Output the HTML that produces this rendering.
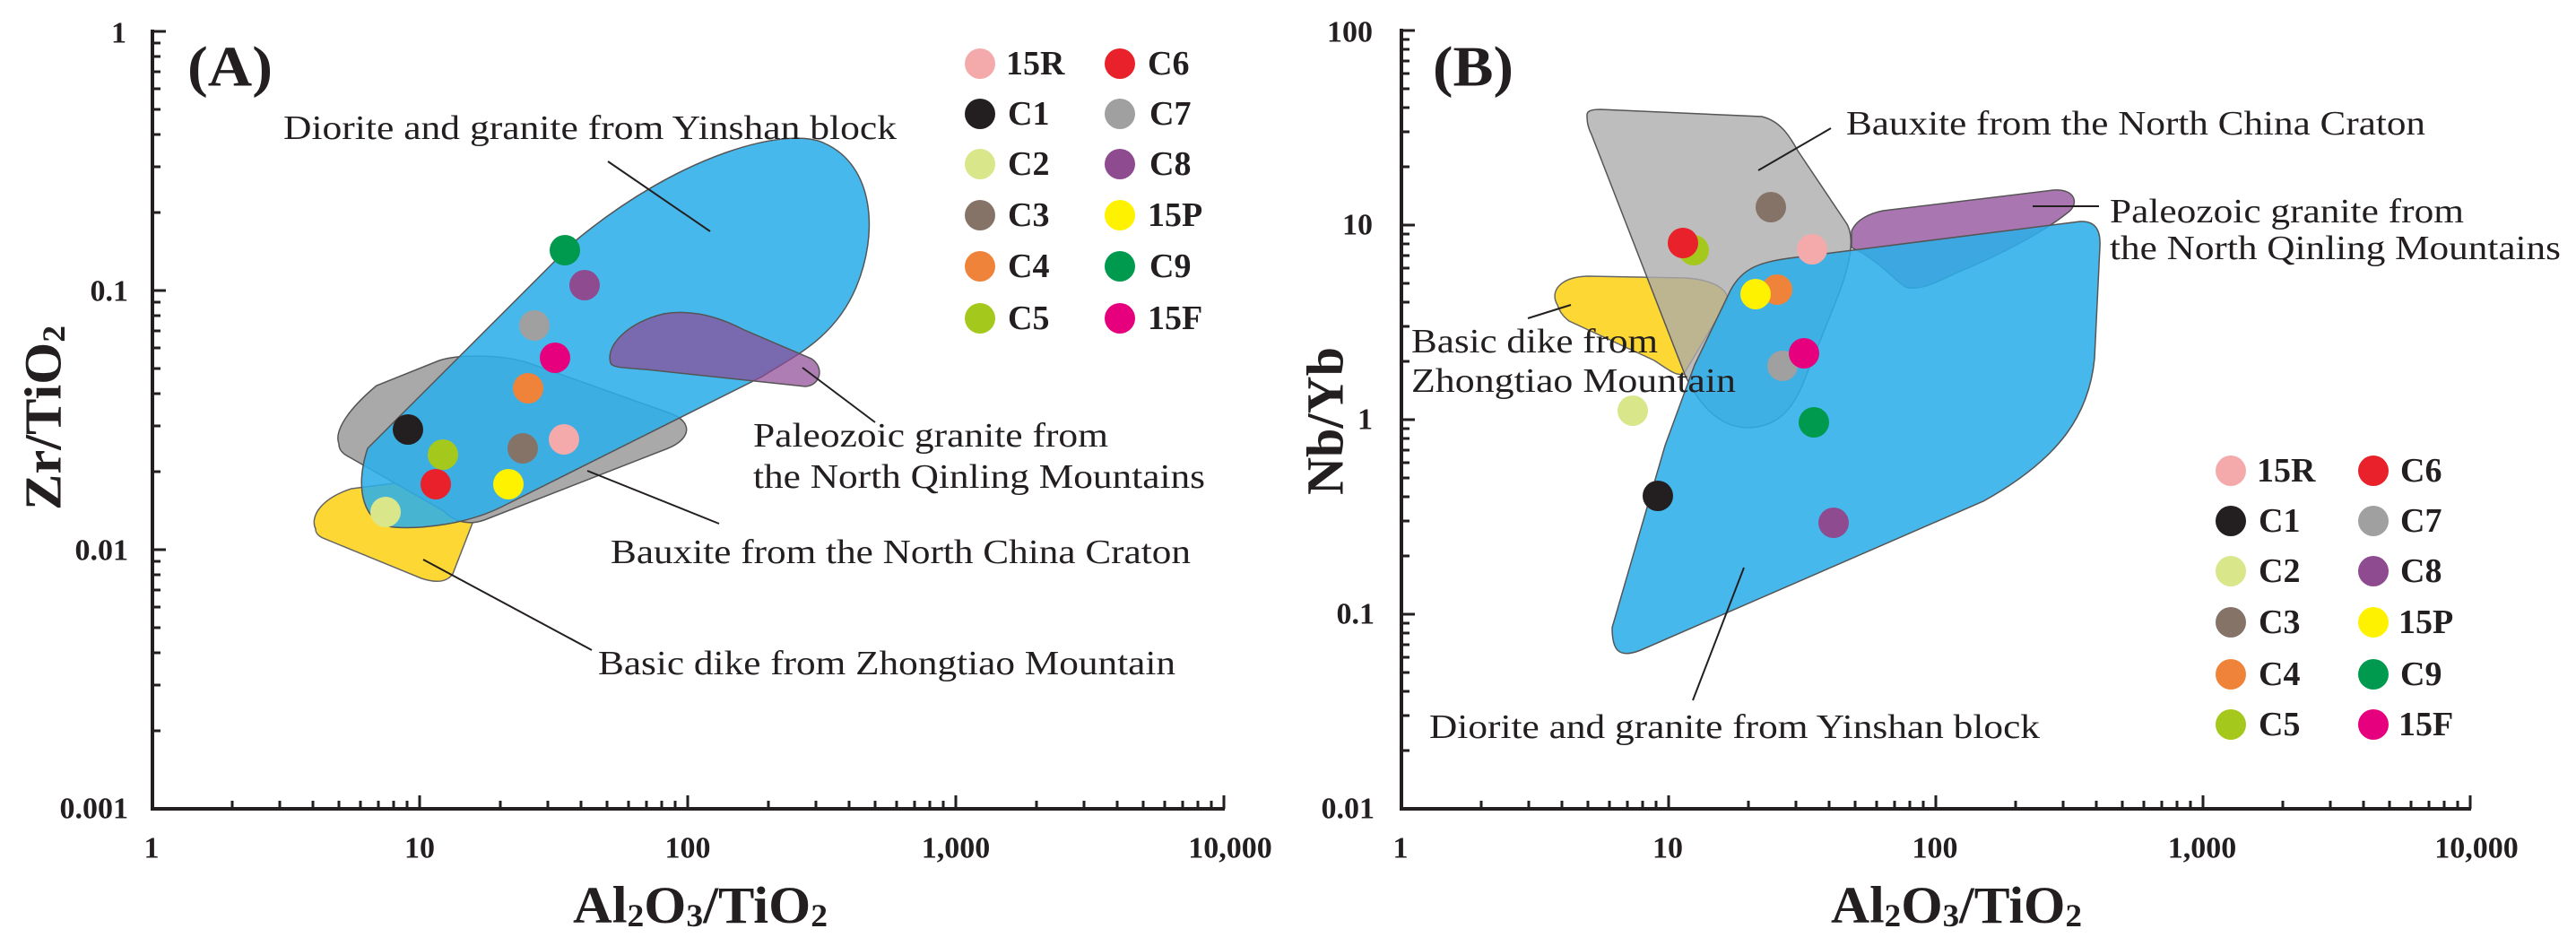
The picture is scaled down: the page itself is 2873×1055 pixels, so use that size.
<!DOCTYPE html>
<html><head><meta charset="utf-8"><style>
html,body{margin:0;padding:0;background:#fff;}
svg{display:block;}
text{font-family:"Liberation Serif",serif;fill:#231f20;}
.t{font-size:38px;}
.b{font-weight:bold;}
</style></head><body>
<svg width="2873" height="1055" viewBox="0 0 2873 1055" xmlns="http://www.w3.org/2000/svg">
<defs>
<g id="xdec" stroke="#231f20" stroke-width="3">
<path d="M90,0v-9M143,0v-9M180,0v-9M209,0v-9M233,0v-9M253,0v-9M270,0v-9M285,0v-9M299,0v-15"/>
</g>
<g id="ydecA" stroke="#231f20" stroke-width="3">
<path d="M0,-87h9M0,-138h9M0,-174h9M0,-202h9M0,-225h9M0,-244h9M0,-261h9M0,-276h9M0,-289h15"/>
</g>
<g id="ydecB" stroke="#231f20" stroke-width="3">
<path d="M0,-65h9M0,-104h9M0,-131h9M0,-152h9M0,-169h9M0,-183h9M0,-196h9M0,-207h9M0,-217h15"/>
</g>
</defs>

<!-- ================= PANEL A ================= -->
<!-- shapes -->
<path d="M352,590 C345,575 360,555 392,545 L510,530 C535,528 540,545 536,560 L505,640 C498,650 485,650 470,645 L360,600 C354,597 352,594 352,590 Z" fill="#fdd835" stroke="#666" stroke-width="1.5"/>
<path d="M378,495 C372,480 390,455 420,430 L490,402 C510,395 560,395 590,405 L745,460 C775,470 770,490 745,500 L540,580 C520,587 505,580 495,570 L390,510 C380,505 378,500 378,495 Z" fill="#a9a9a9" stroke="#555" stroke-width="1.5"/>
<path d="M440,588 C405,585 395,545 410,500 L640,270 C760,170 880,140 920,160 C975,185 980,260 955,320 C930,380 880,400 850,420 L560,565 C520,585 470,590 440,588 Z" fill="#2eaee8" fill-opacity="0.88" stroke="#555" stroke-width="1.5"/>
<path d="M681,405 C675,385 700,360 740,350 C770,345 800,352 830,368 L905,400 C920,410 915,430 898,431 L720,412 C695,410 683,410 681,405 Z" fill="#8e4b95" fill-opacity="0.72" stroke="#555" stroke-width="1.5"/>

<!-- leader lines A -->
<g stroke="#231f20" stroke-width="2" fill="none">
<path d="M678,180 L792,258"/>
<path d="M895,410 L976,471"/>
<path d="M655,525 L802,584"/>
<path d="M472,624 L660,725"/>
</g>

<!-- points A -->
<g>
<circle cx="630" cy="279" r="17" fill="#009a4e"/>
<circle cx="652" cy="318" r="17" fill="#8e4b8f"/>
<circle cx="596" cy="363" r="17" fill="#a0a0a0"/>
<circle cx="619" cy="399" r="17" fill="#e6007e"/>
<circle cx="589" cy="433" r="17" fill="#f0833a"/>
<circle cx="455" cy="479" r="17" fill="#231f20"/>
<circle cx="629" cy="490" r="17" fill="#f4aaaa"/>
<circle cx="583" cy="500" r="17" fill="#857368"/>
<circle cx="494" cy="507" r="17" fill="#a5c81c"/>
<circle cx="486" cy="540" r="17" fill="#e8212a"/>
<circle cx="567" cy="540" r="17" fill="#fff200"/>
<circle cx="430" cy="571" r="17" fill="#d9e68a"/>
</g>

<!-- axes A -->
<path d="M170,33 V902 H1366" fill="none" stroke="#231f20" stroke-width="4"/>
<use href="#xdec" x="169" y="902"/><use href="#xdec" x="468" y="902"/><use href="#xdec" x="767" y="902"/><use href="#xdec" x="1066" y="902"/>
<use href="#ydecA" x="170" y="902"/><use href="#ydecA" x="170" y="613"/><use href="#ydecA" x="170" y="324"/>
<g class="b" font-size="34" text-anchor="end" dominant-baseline="central">
<text x="141" y="37">1</text><text x="143" y="325">0.1</text><text x="143" y="614">0.01</text><text x="143" y="902">0.001</text>
</g>
<g class="b" font-size="34" text-anchor="middle" dominant-baseline="central">
<text x="169" y="946">1</text><text x="468" y="946">10</text><text x="767" y="946">100</text><text x="1066" y="946">1,000</text><text x="1372" y="946">10,000</text>
</g>
<text class="b" font-size="58" x="639" y="1009" dominant-baseline="central" textLength="284" lengthAdjust="spacingAndGlyphs">Al<tspan font-size="36" dy="12">2</tspan><tspan dy="-12">O</tspan><tspan font-size="36" dy="12">3</tspan><tspan dy="-12">/TiO</tspan><tspan font-size="36" dy="12">2</tspan></text>
<text class="b" font-size="58" transform="translate(48,569) rotate(-90)" dominant-baseline="central" textLength="206" lengthAdjust="spacingAndGlyphs">Zr/TiO<tspan font-size="36" dy="12">2</tspan></text>
<text class="b" font-size="64" x="209" y="74" dominant-baseline="central" textLength="95" lengthAdjust="spacingAndGlyphs">(A)</text>

<!-- labels A -->
<g class="t" dominant-baseline="central">
<text x="316" y="143" textLength="684" lengthAdjust="spacingAndGlyphs">Diorite and granite from Yinshan block</text>
<text x="840" y="486" textLength="396" lengthAdjust="spacingAndGlyphs">Paleozoic granite from</text>
<text x="840" y="532" textLength="504" lengthAdjust="spacingAndGlyphs">the North Qinling Mountains</text>
<text x="681" y="616" textLength="647" lengthAdjust="spacingAndGlyphs">Bauxite from the North China Craton</text>
<text x="667" y="740" textLength="644" lengthAdjust="spacingAndGlyphs">Basic dike from Zhongtiao Mountain</text>
</g>

<!-- legend A -->
<g>
<circle cx="1093" cy="71" r="17" fill="#f4aaaa"/><circle cx="1249" cy="71" r="17" fill="#e8212a"/>
<circle cx="1093" cy="127" r="17" fill="#231f20"/><circle cx="1249" cy="127" r="17" fill="#a0a0a0"/>
<circle cx="1093" cy="183" r="17" fill="#d9e68a"/><circle cx="1249" cy="183" r="17" fill="#8e4b8f"/>
<circle cx="1093" cy="240" r="17" fill="#857368"/><circle cx="1249" cy="240" r="17" fill="#fff200"/>
<circle cx="1093" cy="297" r="17" fill="#f0833a"/><circle cx="1249" cy="297" r="17" fill="#009a4e"/>
<circle cx="1093" cy="355" r="17" fill="#a5c81c"/><circle cx="1249" cy="355" r="17" fill="#e6007e"/>
</g>
<g class="t b" dominant-baseline="central" font-size="36">
<text x="1122" y="71">15R</text><text x="1280" y="71">C6</text>
<text x="1124" y="127">C1</text><text x="1282" y="127">C7</text>
<text x="1124" y="183">C2</text><text x="1282" y="183">C8</text>
<text x="1124" y="240">C3</text><text x="1280" y="240">15P</text>
<text x="1124" y="297">C4</text><text x="1282" y="297">C9</text>
<text x="1124" y="355">C5</text><text x="1280" y="355">15F</text>
</g>

<!-- ================= PANEL B ================= -->
<path d="M2065,258 C2070,245 2085,238 2100,235 L2290,212 C2315,210 2320,228 2305,238 C2280,258 2230,285 2185,303 C2160,315 2140,325 2125,320 C2110,310 2095,290 2065,276 Z" fill="#9b5ea3" fill-opacity="0.85" stroke="#555" stroke-width="1.5"/>
<path d="M1737,340 C1728,325 1740,309 1770,308 L1880,310 C1910,312 1927,322 1927,335 L1878,417 C1870,420 1860,412 1845,402 L1750,358 C1742,352 1739,346 1737,340 Z" fill="#fdd835" stroke="#666" stroke-width="1.5"/>
<path d="M1770,128 C1770,124 1775,122 1785,122 L1965,130 C1985,135 1995,150 2005,168 L2060,250 C2068,265 2065,290 2050,330 L2010,430 C1995,465 1975,477 1947,477 C1915,475 1895,450 1880,420 L1775,150 C1770,140 1770,133 1770,128 Z" fill="#aaaaaa" fill-opacity="0.78" stroke="#555" stroke-width="1.5"/>
<path d="M1927,330 C1940,300 1960,293 1995,288 L2320,247 C2338,246 2343,258 2342,275 L2336,400 C2330,460 2300,510 2212,559 L1830,725 C1805,735 1798,725 1798,700 L1857,497 L1890,407 Z" fill="#2eaee8" fill-opacity="0.88" stroke="#555" stroke-width="1.5"/>

<g stroke="#231f20" stroke-width="2" fill="none">
<path d="M1961,190 L2042,143"/>
<path d="M2267,230 L2341,230"/>
<path d="M1704,355 L1752,340"/>
<path d="M1888,781 L1945,633"/>
</g>

<g>
<circle cx="1975" cy="231" r="17" fill="#857368"/>
<circle cx="1889" cy="279" r="17" fill="#a5c81c"/>
<circle cx="1877" cy="271" r="17" fill="#e8212a"/>
<circle cx="2021" cy="278" r="17" fill="#f4aaaa"/>
<circle cx="1982" cy="323" r="17" fill="#f0833a"/>
<circle cx="1958" cy="328" r="17" fill="#fff200"/>
<circle cx="1988" cy="408" r="17" fill="#a0a0a0"/>
<circle cx="2012" cy="394" r="17" fill="#e6007e"/>
<circle cx="1821" cy="458" r="17" fill="#d9e68a"/>
<circle cx="2023" cy="471" r="17" fill="#009a4e"/>
<circle cx="1849" cy="553" r="17" fill="#231f20"/>
<circle cx="2045" cy="583" r="17" fill="#8e4b8f"/>
</g>

<path d="M1563,32 V902 H2756" fill="none" stroke="#231f20" stroke-width="4"/>
<use href="#xdec" x="1562" y="902"/><use href="#xdec" x="1860" y="902"/><use href="#xdec" x="2158" y="902"/><use href="#xdec" x="2456" y="902"/>
<use href="#ydecB" x="1563" y="902"/><use href="#ydecB" x="1563" y="685"/><use href="#ydecB" x="1563" y="468"/><use href="#ydecB" x="1563" y="251"/>
<g class="b" font-size="34" text-anchor="end" dominant-baseline="central">
<text x="1531" y="36">100</text><text x="1531" y="251">10</text><text x="1531" y="468">1</text><text x="1533" y="685">0.1</text><text x="1533" y="902">0.01</text>
</g>
<g class="b" font-size="34" text-anchor="middle" dominant-baseline="central">
<text x="1562" y="946">1</text><text x="1860" y="946">10</text><text x="2158" y="946">100</text><text x="2456" y="946">1,000</text><text x="2762" y="946">10,000</text>
</g>
<text class="b" font-size="58" x="2042" y="1009" dominant-baseline="central" textLength="280" lengthAdjust="spacingAndGlyphs">Al<tspan font-size="36" dy="12">2</tspan><tspan dy="-12">O</tspan><tspan font-size="36" dy="12">3</tspan><tspan dy="-12">/TiO</tspan><tspan font-size="36" dy="12">2</tspan></text>
<text class="b" font-size="58" transform="translate(1478,552) rotate(-90)" dominant-baseline="central" textLength="165" lengthAdjust="spacingAndGlyphs">Nb/Yb</text>
<text class="b" font-size="64" x="1598" y="74" dominant-baseline="central" textLength="90" lengthAdjust="spacingAndGlyphs">(B)</text>

<g class="t" dominant-baseline="central">
<text x="2059" y="138" textLength="646" lengthAdjust="spacingAndGlyphs">Bauxite from the North China Craton</text>
<text x="2353" y="236" textLength="395" lengthAdjust="spacingAndGlyphs">Paleozoic granite from</text>
<text x="2353" y="277" textLength="503" lengthAdjust="spacingAndGlyphs">the North Qinling Mountains</text>
<text x="1574" y="381" textLength="275" lengthAdjust="spacingAndGlyphs">Basic dike from</text>
<text x="1574" y="425" textLength="362" lengthAdjust="spacingAndGlyphs">Zhongtiao Mountain</text>
<text x="1594" y="811" textLength="681" lengthAdjust="spacingAndGlyphs">Diorite and granite from Yinshan block</text>
</g>

<g>
<circle cx="2488" cy="525" r="17" fill="#f4aaaa"/><circle cx="2647" cy="525" r="17" fill="#e8212a"/>
<circle cx="2488" cy="581" r="17" fill="#231f20"/><circle cx="2647" cy="581" r="17" fill="#a0a0a0"/>
<circle cx="2488" cy="637" r="17" fill="#d9e68a"/><circle cx="2647" cy="637" r="17" fill="#8e4b8f"/>
<circle cx="2488" cy="694" r="17" fill="#857368"/><circle cx="2647" cy="694" r="17" fill="#fff200"/>
<circle cx="2488" cy="752" r="17" fill="#f0833a"/><circle cx="2647" cy="752" r="17" fill="#009a4e"/>
<circle cx="2488" cy="808" r="17" fill="#a5c81c"/><circle cx="2647" cy="808" r="17" fill="#e6007e"/>
</g>
<g class="t b" dominant-baseline="central" font-size="36">
<text x="2517" y="525">15R</text><text x="2677" y="525">C6</text>
<text x="2519" y="581">C1</text><text x="2677" y="581">C7</text>
<text x="2519" y="637">C2</text><text x="2677" y="637">C8</text>
<text x="2519" y="694">C3</text><text x="2675" y="694">15P</text>
<text x="2519" y="752">C4</text><text x="2677" y="752">C9</text>
<text x="2519" y="808">C5</text><text x="2675" y="808">15F</text>
</g>
</svg>
</body></html>
